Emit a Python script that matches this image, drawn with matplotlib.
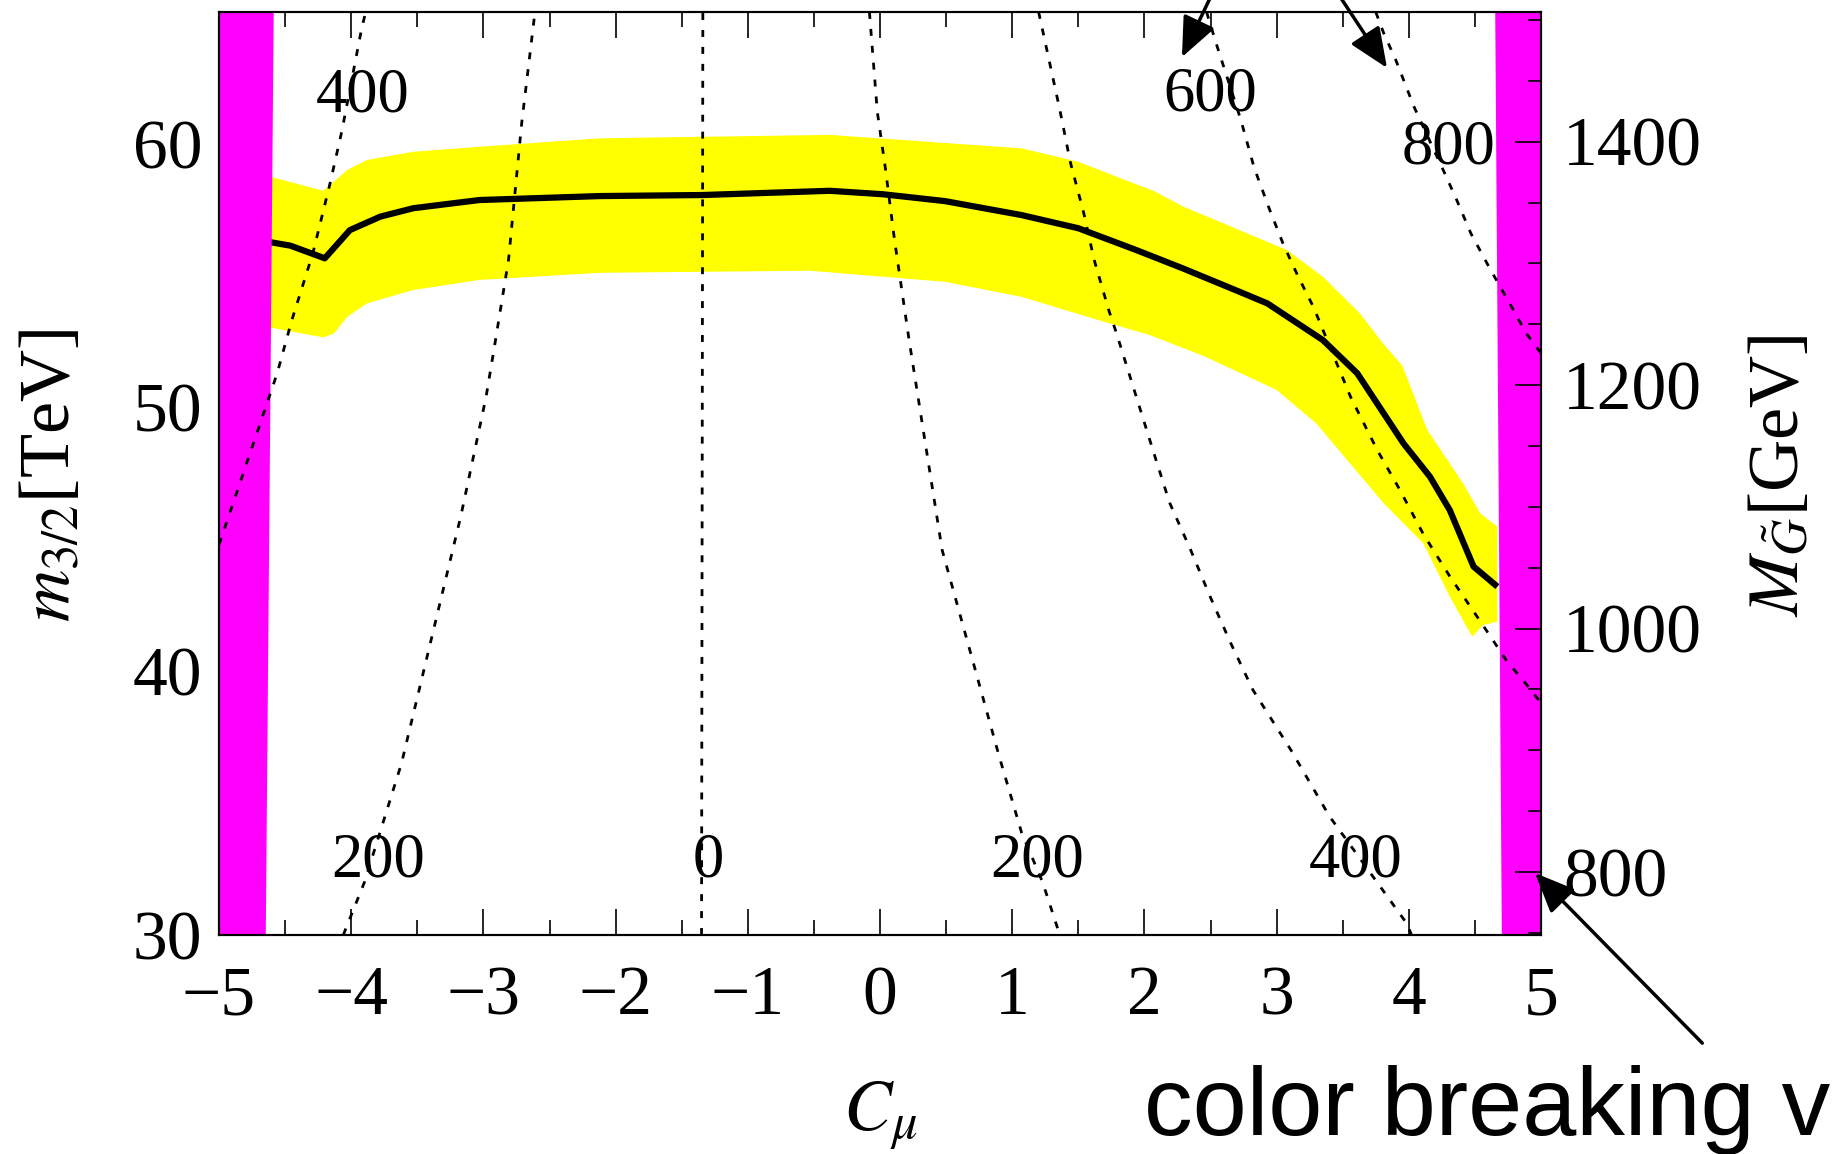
import numpy as np
import matplotlib
matplotlib.use('Agg')
import matplotlib.pyplot as plt
from matplotlib.ticker import MultipleLocator

plt.rcParams['font.family'] = ['Liberation Serif', 'DejaVu Serif']
plt.rcParams['mathtext.fontset'] = 'stix'

## axis ranges
c_lim = (-5, 5)
m_lim = (30, 65)
mg_lim = (748.3, 1506.5)   # gluino mass (GeV) matching m_lim on the right axis

## central line and its yellow band
c_line = [-4.61, -4.46, -4.20, -4.01, -3.78, -3.53, -3.03, -2.12, -1.34, -0.38, 0.02, 0.49,
          1.07, 1.50, 1.94, 2.29, 2.72, 2.93, 3.35, 3.61, 3.96, 4.16, 4.31, 4.49, 4.67]
m_line = [56.27, 56.14, 55.66, 56.73, 57.24, 57.56, 57.87, 58.02, 58.06, 58.22, 58.09, 57.83,
          57.30, 56.80, 55.97, 55.28, 54.39, 53.95, 52.56, 51.30, 48.64, 47.38, 46.11, 43.97, 43.21]

c_up = [-4.61, -4.21, -4.03, -3.88, -3.53, -3.03, -2.12, -0.38, 1.07, 1.50, 2.08, 2.29,
        3.08, 3.35, 3.63, 3.81, 3.95, 4.14, 4.41, 4.54, 4.67]
m_up = [58.75, 58.22, 59.01, 59.39, 59.70, 59.89, 60.21, 60.34, 59.83, 59.32, 58.19, 57.63,
        55.97, 54.96, 53.57, 52.40, 51.60, 49.15, 47.13, 45.99, 45.48]

c_lo = [-4.61, -4.21, -4.13, -4.03, -3.88, -3.53, -3.03, -2.12, -0.53, 0.49, 1.07, 1.65,
        2.04, 2.45, 3.00, 3.30, 3.81, 4.11, 4.31, 4.48, 4.56, 4.67]
m_lo = [53.03, 52.66, 52.81, 53.44, 53.95, 54.46, 54.84, 55.11, 55.19, 54.77, 54.20, 53.32,
        52.75, 51.95, 50.67, 49.40, 46.37, 44.85, 42.83, 41.31, 41.75, 41.88]

## colour breaking vacuum regions (magenta)
mag_m = [30, 65]
mag_left = [-4.65, -4.59]
mag_right = [4.70, 4.65]

## dotted contours
c400L = [-5.0, -4.56, -4.45, -4.29, -4.16, -4.07, -3.92, -3.89]
m400L = [44.8, 51.3, 53.3, 55.85, 58.5, 60.5, 64.4, 65.0]
c200L = [-4.06, -3.90, -3.62, -3.17, -2.98, -2.92, -2.81, -2.71, -2.61]
m200L = [30.0, 32.0, 36.5, 45.9, 50.4, 52.2, 55.6, 60.8, 65.0]
c0 = [-1.35, -1.34]
m0 = [30.0, 65.0]
c200R = [-0.08, -0.02, 0.04, 0.11, 0.22, 0.47, 0.90, 1.07, 1.23, 1.36]
m200R = [65.0, 61.2, 59.1, 56.35, 52.56, 44.6, 36.8, 33.9, 32.0, 30.0]
c400R = [1.20, 1.36, 1.44, 1.54, 1.62, 1.73, 1.79, 2.07, 2.19, 2.35, 2.50, 2.65, 2.82,
         3.11, 3.40, 3.76, 3.99, 4.02]
m400R = [65.0, 61.3, 59.3, 57.4, 55.6, 53.7, 52.8, 48.3, 46.4, 44.6, 42.8, 41.1, 39.3,
         37.0, 34.5, 32.0, 30.4, 30.0]
c600 = [2.47, 2.55, 2.73, 2.83, 2.94, 3.05, 3.16, 3.28, 3.42, 3.56, 3.76, 3.93, 4.11,
        4.31, 4.54, 4.74, 4.89, 5.0]
m600 = [65.0, 63.7, 60.9, 59.1, 57.6, 56.2, 55.0, 53.8, 52.1, 50.4, 48.4, 46.9, 45.2,
        43.6, 41.9, 40.4, 39.5, 38.8]
c800 = [3.75, 3.81, 3.90, 3.97, 4.04, 4.27, 4.36, 4.47, 4.61, 4.78, 4.89, 5.0]
m800 = [65.0, 64.2, 63.2, 62.3, 61.4, 58.9, 57.9, 56.6, 55.3, 53.8, 52.8, 52.06]

lab_text = ['400', '200', '0', '200', '400', '600', '800']
lab_c = [-3.91, -3.80, -1.30, 1.19, 3.60, 2.50, 4.30]
lab_m = [61.21, 32.20, 32.20, 32.20, 32.20, 61.28, 59.26]

## arrows (tail, head) in data coords
arrow_cb = ((6.22, 25.9), (4.955, 32.35))
arrow_top1 = ((2.57, 66.3), (2.284, 63.29))
arrow_top2 = ((3.385, 66.3), (3.835, 62.88))

############################################################################
fig = plt.figure(figsize=(18.35, 11.54), dpi=100)
ax = fig.add_axes([219/1835, 1-935/1154, 1322/1835, 923/1154])

ax.fill(np.r_[c_up, c_lo[::-1]], np.r_[m_up, m_lo[::-1]], color='#ffff00', lw=0, zorder=1)
ax.plot(c_line, m_line, color='k', lw=4.5, zorder=1.5, solid_capstyle='butt')
ax.fill_betweenx(mag_m, c_lim[0], mag_left, color='#ff00ff', lw=0, zorder=1.8)
ax.fill_betweenx(mag_m, mag_right, c_lim[1], color='#ff00ff', lw=0, zorder=1.8)

dots = (0, (2.5, 3.6))
for cc, mm in [(c400L, m400L), (c200L, m200L), (c0, m0), (c200R, m200R),
               (c400R, m400R), (c600, m600), (c800, m800)]:
    ax.plot(cc, mm, color='k', lw=2, ls=dots, zorder=2)

for s, cc, mm in zip(lab_text, lab_c, lab_m):
    ax.text(cc, mm, s, ha='center', va='baseline', fontsize=45, zorder=3)

ax.set_xlim(c_lim)
ax.set_ylim(m_lim)
ax.xaxis.set_major_locator(MultipleLocator(1))
ax.xaxis.set_minor_locator(MultipleLocator(0.5))
ax.yaxis.set_major_locator(MultipleLocator(10))
ax.yaxis.set_minor_locator(MultipleLocator(2))
ax.tick_params(axis='x', which='both', direction='in', top=True, bottom=True)
ax.tick_params(axis='y', which='both', direction='in', left=True, right=False)
ax.tick_params(which='major', length=18.5, width=1.2, labelsize=50)
ax.tick_params(which='minor', length=11, width=1.2)
ax.tick_params(axis='x', pad=22)
ax.tick_params(axis='y', pad=12)
for sp in ax.spines.values():
    sp.set_linewidth(1.5)

ax2 = ax.twinx()
ax2.set_ylim(mg_lim)
ax2.yaxis.set_major_locator(MultipleLocator(200))
ax2.yaxis.set_minor_locator(MultipleLocator(50))
ax2.tick_params(axis='y', which='both', direction='in', right=True, left=False)
ax2.tick_params(which='major', length=18.5, width=1.2, labelsize=50, pad=16)
ax2.tick_params(which='minor', length=9.5, width=1.2)
for sp in ax2.spines.values():
    sp.set_linewidth(1.5)

fig.text(51/1835, 1-475/1154, r'$m_{3/2}$[TeV]', rotation=90, ha='center', va='center', fontsize=52)
fig.text(1780/1835, 1-476/1154, r'$M_{\tilde{G}}$[GeV]', rotation=90, ha='center', va='center', fontsize=52)
fig.text(880/1835, 1-1116/1154, r'$C_\mu$', ha='center', va='center', fontsize=52)

fig.text(1144/1835, 1-1135/1154, 'color breaking v', fontsize=70, family='Liberation Sans',
         ha='left', va='baseline')

for tail, head in [arrow_cb, arrow_top1, arrow_top2]:
    ax.annotate('', xy=head, xytext=tail, xycoords='data', annotation_clip=False,
                arrowprops=dict(arrowstyle='-|>,head_length=0.7,head_width=0.3', color='k',
                                lw=2.5, mutation_scale=35, shrinkA=0, shrinkB=0))

fig.savefig('out.png', dpi=100)
